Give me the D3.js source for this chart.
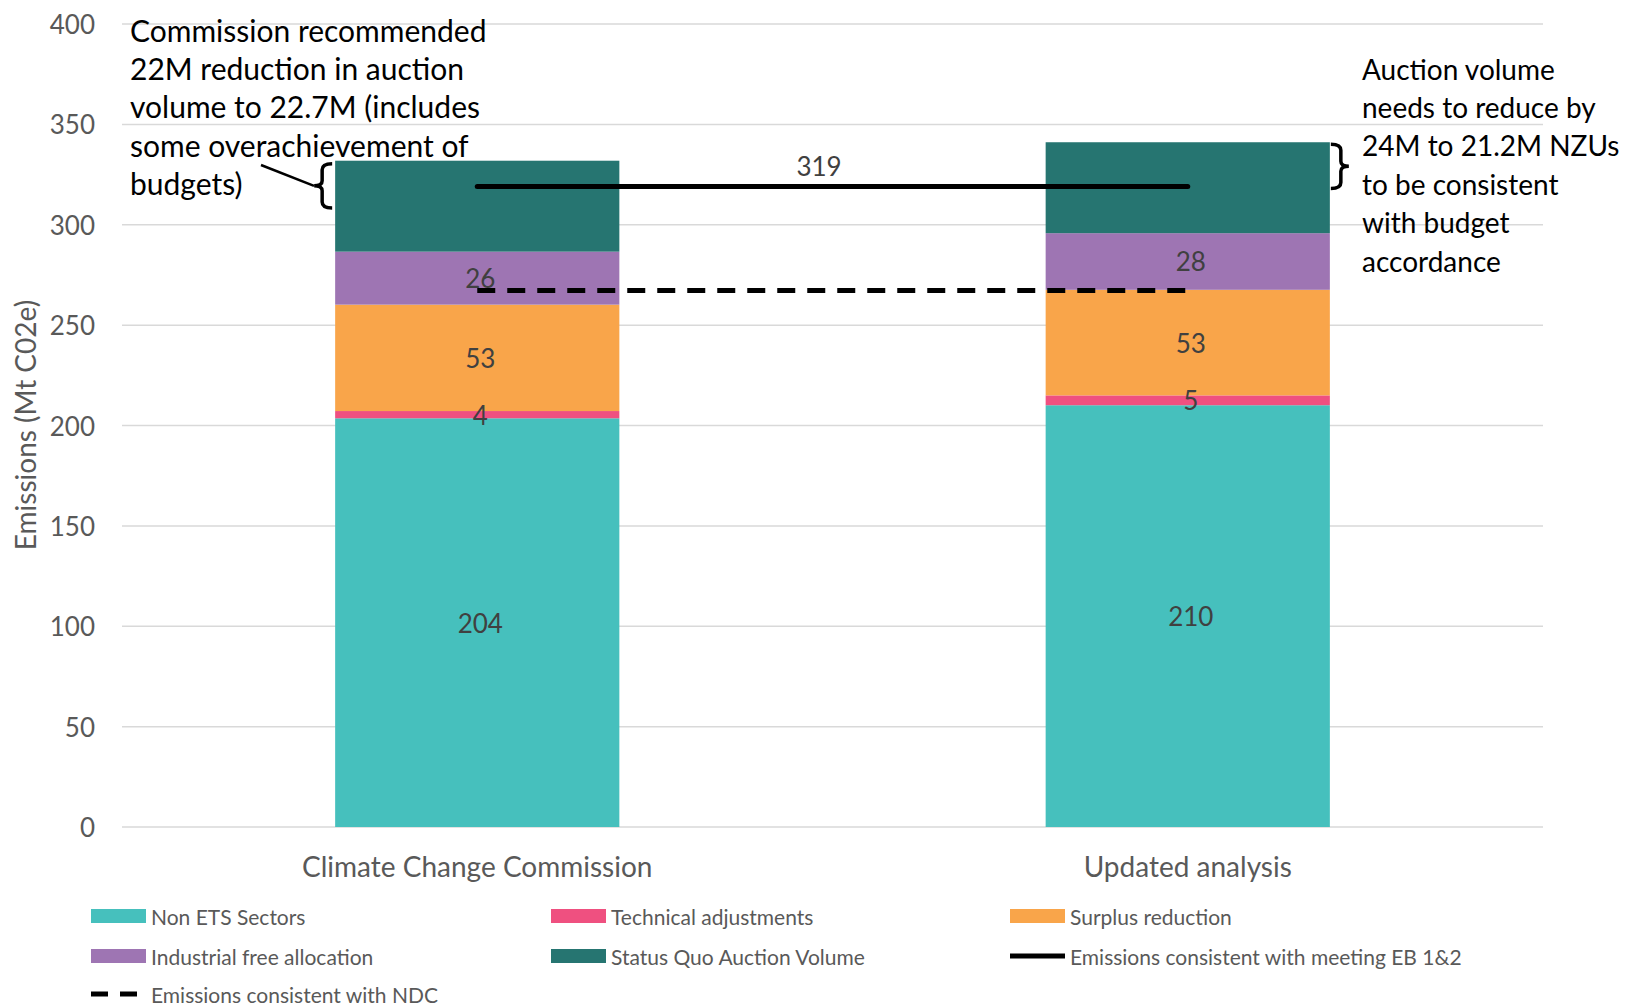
<!DOCTYPE html>
<html>
<head>
<meta charset="utf-8">
<script src="https://cdn.jsdelivr.net/npm/d3@7"></script>
<style>
  body { margin: 0; background: #fff; }
  svg { display: block; font-family: Lato, "Noto Sans", sans-serif; }
</style>
</head>
<body>
<div id="chart"></div>
<script>
// Chart data
const categories = ["Climate Change Commission", "Updated analysis"];
const seriesNames = ["Non ETS Sectors", "Technical adjustments", "Surplus reduction", "Industrial free allocation", "Status Quo Auction Volume"];
const seriesColors = ["#46c0bd", "#ef5080", "#f9a54a", "#9e75b3", "#267571"];
const nonEts = [203.6, 210.1];
const technical = [3.6, 4.9];
const surplus = [53.0, 52.6];
const industrial = [26.4, 28.2];
const statusQuo = [45.3, 45.3];
const labelled = [true, true, true, true, false]; // status quo has no data label
const ebLine = 319;   // Emissions consistent with meeting EB 1&2
const ndcLine = 267.2; // Emissions consistent with NDC
const auctionCuts = [22, 24];
const yTicks = [0, 50, 100, 150, 200, 250, 300, 350, 400];
const noteLeft = ["Commission recommended", "22M reduction in auction", "volume to 22.7M (includes", "some overachievement of", "budgets)"];
const noteRight = ["Auction volume", "needs to reduce by", "24M to 21.2M NZUs", "to be consistent", "with budget", "accordance"];

const W = 1626, H = 1006;
const svg = d3.select("#chart").append("svg")
  .attr("width", W)
  .attr("height", H);

const y = d3.scaleLinear().domain([0, 400]).range([827, 24]);
const x = d3.scaleBand().domain(categories).range([122, 1543])
  .paddingInner(0.6).paddingOuter(0.3);

// gridlines
svg.append("g").selectAll("line").data(yTicks).join("line")
  .attr("x1", 122).attr("x2", 1543)
  .attr("y1", d => y(d)).attr("y2", d => y(d))
  .attr("stroke", "#d9d9d9").attr("stroke-width", 1.5);

// y axis labels
svg.append("g").selectAll("text").data(yTicks).join("text")
  .attr("x", 95).attr("y", d => y(d))
  .attr("text-anchor", "end").attr("dominant-baseline", "central")
  .attr("font-size", 26).attr("fill", "#595959")
  .text(d => d);

svg.append("text")
  .attr("transform", "translate(25,425) rotate(-90)")
  .attr("text-anchor", "middle").attr("dominant-baseline", "central")
  .attr("font-size", 28).attr("fill", "#595959")
  .text("Emissions (Mt C02e)");

// stacked bars
const rows = categories.map((c, i) => ({
  cat: c,
  "Non ETS Sectors": nonEts[i],
  "Technical adjustments": technical[i],
  "Surplus reduction": surplus[i],
  "Industrial free allocation": industrial[i],
  "Status Quo Auction Volume": statusQuo[i]
}));
const stacked = d3.stack().keys(seriesNames)(rows);

const layers = svg.append("g").selectAll("g").data(stacked).join("g")
  .attr("fill", (d, i) => seriesColors[i]);

layers.selectAll("rect").data(d => d).join("rect")
  .attr("x", d => x(d.data.cat))
  .attr("width", x.bandwidth())
  .attr("y", d => y(d[1]))
  .attr("height", d => y(d[0]) - y(d[1]));

// data labels
const fmt = d3.format(".0f");
stacked.forEach((layer, i) => {
  if (!labelled[i]) return;
  svg.append("g").selectAll("text").data(layer).join("text")
    .attr("x", d => x(d.data.cat) + x.bandwidth() / 2 + 3)
    .attr("y", d => y((d[0] + d[1]) / 2))
    .attr("text-anchor", "middle").attr("dominant-baseline", "central")
    .attr("font-size", 26).attr("fill", "#404040")
    .text(d => fmt(d[1] - d[0]));
});

// category labels
svg.append("g").selectAll("text").data(categories).join("text")
  .attr("x", d => x(d) + x.bandwidth() / 2)
  .attr("y", 866)
  .attr("text-anchor", "middle").attr("dominant-baseline", "central")
  .attr("font-size", 28).attr("fill", "#595959")
  .text(d => d);

// reference lines between bar centres
const cx1 = x(categories[0]) + x.bandwidth() / 2;
const cx2 = x(categories[1]) + x.bandwidth() / 2;

svg.append("line")
  .attr("x1", cx1).attr("x2", cx2)
  .attr("y1", y(ndcLine)).attr("y2", y(ndcLine))
  .attr("stroke", "#000").attr("stroke-width", 5)
  .attr("stroke-dasharray", "18,12");

svg.append("line")
  .attr("x1", cx1).attr("x2", cx2)
  .attr("y1", y(ebLine)).attr("y2", y(ebLine))
  .attr("stroke", "#000").attr("stroke-width", 5)
  .attr("stroke-linecap", "round");

svg.append("text")
  .attr("x", 819).attr("y", y(ebLine) - 21)
  .attr("text-anchor", "middle").attr("dominant-baseline", "central")
  .attr("font-size", 26).attr("fill", "#404040")
  .text(ebLine);

// braces marking the auction volume cuts
const totals = rows.map(r => d3.sum(seriesNames, k => r[k]));

function brace(xEdge, dir, top, bottom) {
  // dir = -1 opens to the right ( "{" ), +1 opens to the left ( "}" )
  const xv = xEdge + dir * 10, xt = xv + dir * 8, mid = (top + bottom) / 2;
  return `M${xEdge},${top} Q${xv},${top} ${xv},${top + 6} L${xv},${mid - 5} Q${xv},${mid} ${xt},${mid}` +
    ` Q${xv},${mid} ${xv},${mid + 5} L${xv},${bottom - 6} Q${xv},${bottom} ${xEdge},${bottom}`;
}

svg.append("path")
  .attr("d", brace(x(categories[0]) - 3, -1, y(totals[0]) + 3, y(totals[0] - auctionCuts[0]) + 3))
  .attr("fill", "none").attr("stroke", "#000").attr("stroke-width", 3.5);

svg.append("path")
  .attr("d", brace(x(categories[1]) + x.bandwidth() + 1, 1, y(totals[1]) + 2, y(totals[1] - auctionCuts[1]) - 2))
  .attr("fill", "none").attr("stroke", "#000").attr("stroke-width", 3.5);

// leader line from the left note
svg.append("line")
  .attr("x1", 261).attr("y1", 165)
  .attr("x2", 314).attr("y2", (y(totals[0]) + y(totals[0] - auctionCuts[0])) / 2 + 3)
  .attr("stroke", "#000").attr("stroke-width", 2.5);

// annotation text
svg.append("g").selectAll("text").data(noteLeft).join("text")
  .attr("x", 130).attr("y", (d, i) => 30 + i * 38.2)
  .attr("dominant-baseline", "central")
  .attr("font-size", 30).attr("fill", "#000")
  .text(d => d);

svg.append("g").selectAll("text").data(noteRight).join("text")
  .attr("x", 1362).attr("y", (d, i) => 68.5 + i * 38.4)
  .attr("dominant-baseline", "central")
  .attr("font-size", 28).attr("fill", "#000")
  .text(d => d);

// legend
const legendItems = seriesNames.map((n, i) => ({ name: n, type: "rect", color: seriesColors[i] }))
  .concat([
    { name: "Emissions consistent with meeting EB 1&2", type: "line" },
    { name: "Emissions consistent with NDC", type: "dash" }
  ]);
const colX = [91, 551, 1010];
const rowY = [916, 956, 994];

const legend = svg.append("g").selectAll("g").data(legendItems).join("g")
  .attr("transform", (d, i) => `translate(${colX[i % 3]},${rowY[Math.floor(i / 3)]})`);

legend.filter(d => d.type === "rect").append("rect")
  .attr("x", 0).attr("y", -7).attr("width", 55).attr("height", 14)
  .attr("fill", d => d.color);

legend.filter(d => d.type === "line").append("line")
  .attr("x1", 0).attr("x2", 55).attr("y1", 0).attr("y2", 0)
  .attr("stroke", "#000").attr("stroke-width", 5);

legend.filter(d => d.type === "dash").append("line")
  .attr("x1", 0).attr("x2", 47).attr("y1", 0).attr("y2", 0)
  .attr("stroke", "#000").attr("stroke-width", 5)
  .attr("stroke-dasharray", "17,12");

legend.append("text")
  .attr("x", 60).attr("y", 0)
  .attr("dominant-baseline", "central")
  .attr("font-size", 21).attr("fill", "#595959")
  .text(d => d.name);
</script>
</body>
</html>
